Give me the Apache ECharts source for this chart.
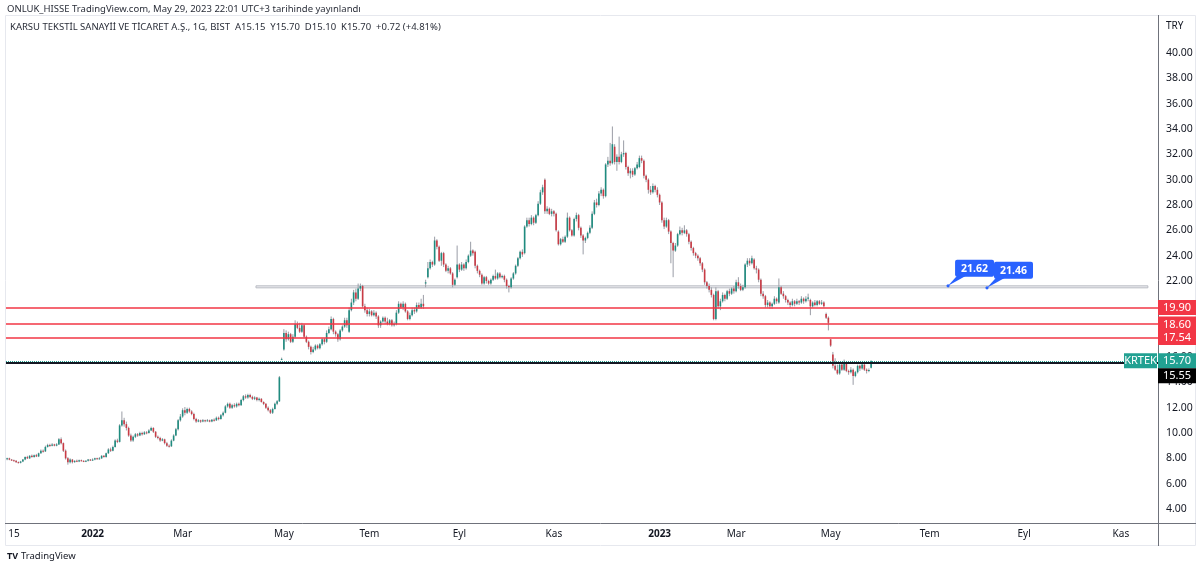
<!DOCTYPE html>
<html>
<head>
<meta charset="utf-8">
<script src="https://cdn.jsdelivr.net/npm/echarts@6/dist/echarts.min.js"></script>
<style>html,body{margin:0;padding:0;background:#fff}#c{width:1200px;height:567px}</style>
</head>
<body>
<div id="c"></div>
<script>
// ---- DATA ----
// daily candles: [open, close, low, high]
const candles = [
[7.95,8.0,7.85,8.05],[8.0,7.9,7.85,8.05],[7.9,7.85,7.8,7.95],[7.85,7.8,7.75,7.9],[7.8,7.7,7.65,7.85],
[7.7,7.65,7.6,7.75],[7.65,7.75,7.6,7.8],[7.75,7.9,7.7,7.95],[7.9,8.1,7.85,8.15],[8.1,8.0,7.95,8.2],
[8.0,8.2,7.95,8.25],[8.2,8.1,8.05,8.3],[8.1,8.25,8.05,8.3],[8.25,8.15,8.1,8.35],[8.15,8.4,8.1,8.45],
[8.4,8.6,8.35,8.7],[8.6,8.55,8.45,8.7],[8.55,8.9,8.5,9.0],[8.9,9.05,8.85,9.15],[9.05,9.0,8.9,9.15],
[9.0,9.1,8.95,9.2],[9.1,9.0,8.95,9.15],[9.0,9.1,8.95,9.2],[9.1,9.5,9.05,9.6],[9.5,9.2,9.1,9.65],
[9.2,8.6,8.5,9.25],[8.6,8.0,7.9,8.7],[8.0,7.7,7.5,8.1],[7.7,7.9,7.6,8.0],[7.9,7.7,7.6,7.95],
[7.7,7.8,7.65,7.85],[7.8,7.75,7.7,7.9],[7.75,7.85,7.7,7.9],[7.85,7.8,7.75,7.9],[7.8,7.75,7.7,7.85],
[7.75,7.8,7.7,7.85],[7.8,7.9,7.75,7.95],[7.9,7.85,7.8,7.95],[7.85,7.9,7.8,8.0],[7.9,8.0,7.85,8.05],
[8.0,7.95,7.9,8.05],[7.95,8.0,7.9,8.1],[8.0,8.2,7.95,8.25],[8.2,8.1,8.05,8.25],[8.1,8.4,8.05,8.45],
[8.4,8.7,8.35,8.8],[8.7,8.6,8.5,8.85],[8.6,8.9,8.55,9.0],[8.9,9.4,8.85,9.5],[9.4,9.3,9.2,9.55],
[9.3,10.6,9.25,10.7],[10.6,11.0,10.5,11.7],[11.0,10.7,10.5,11.2],[10.7,10.4,10.2,10.9],[10.4,9.8,9.7,10.5],
[9.8,9.4,9.3,9.95],[9.4,9.7,9.3,9.8],[9.7,9.9,9.6,10.0],[9.9,9.8,9.7,10.0],[9.8,10.0,9.75,10.1],
[10.0,9.9,9.8,10.1],[9.9,10.05,9.85,10.15],[10.05,10.0,9.9,10.15],[10.0,10.2,9.95,10.3],[10.2,10.4,10.15,10.5],
[10.4,10.1,10.0,10.45],[10.1,9.7,9.6,10.15],[9.7,9.6,9.5,9.8],[9.6,9.4,9.3,9.7],[9.4,9.5,9.35,9.6],
[9.5,9.2,9.1,9.55],[9.2,9.0,8.9,9.3],[9.0,8.95,8.85,9.1],[8.95,9.4,8.9,9.5],[9.4,9.8,9.35,9.9],
[9.8,10.3,9.75,10.4],[10.3,11.0,10.2,11.1],[11.0,11.3,10.9,11.5],[11.3,11.8,11.2,11.95],[11.8,11.6,11.4,12.05],
[11.6,11.9,11.5,12.0],[11.9,11.7,11.6,12.0],[11.7,11.5,11.4,11.8],[11.5,11.1,11.0,11.6],[11.1,10.9,10.8,11.2],
[10.9,11.0,10.85,11.1],[11.0,10.9,10.8,11.05],[10.9,11.0,10.85,11.1],[11.0,10.95,10.85,11.05],[10.95,11.0,10.9,11.1],
[11.0,10.9,10.85,11.05],[10.9,11.05,10.85,11.1],[11.05,11.0,10.9,11.15],[11.0,11.2,10.95,11.3],[11.2,11.1,11.0,11.3],
[11.1,11.4,11.05,11.5],[11.4,11.6,11.3,11.7],[11.6,12.1,11.55,12.2],[12.1,12.3,12.0,12.4],[12.3,12.0,11.9,12.4],
[12.0,12.2,11.9,12.3],[12.2,12.1,12.0,12.35],[12.1,12.3,12.0,12.4],[12.3,12.2,12.1,12.4],[12.2,12.6,12.15,12.7],
[12.6,12.9,12.5,13.0],[12.9,12.8,12.7,13.05],[12.8,13.0,12.7,13.1],[13.0,12.85,12.75,13.1],[12.85,12.7,12.6,12.95],
[12.7,12.8,12.6,12.9],[12.8,12.6,12.5,12.85],[12.6,12.7,12.5,12.8],[12.7,12.45,12.4,12.75],[12.45,12.3,12.2,12.5],
[12.3,12.0,11.9,12.35],[12.0,11.8,11.7,12.1],[11.8,11.6,11.5,11.9],[11.6,11.9,11.5,12.0],[11.9,12.3,11.85,12.4],
[12.3,12.5,12.2,12.6],[12.5,14.4,12.45,14.5],[15.8,15.85,15.75,15.95],[16.6,17.9,16.5,18.2],[17.9,17.4,17.2,18.1],
[17.4,17.8,17.3,18.0],[17.8,17.2,17.1,17.9],[17.2,17.6,17.1,17.8],[17.6,18.6,17.5,18.9],[18.6,18.3,18.2,18.8],
[18.3,18.0,17.9,18.7],[18.0,18.5,17.9,18.7],[18.5,17.6,17.5,18.6],[17.6,17.2,17.1,17.7],[17.2,16.8,16.6,17.3],
[16.8,16.4,16.2,16.9],[16.4,16.6,16.3,16.8],[16.6,16.9,16.5,17.0],[16.9,16.7,16.6,17.0],[16.7,17.0,16.6,17.1],
[17.0,17.4,16.9,17.5],[17.4,17.2,17.0,17.5],[17.2,17.9,17.1,18.1],[17.9,18.2,17.8,18.4],[18.2,19.0,18.1,19.2],
[19.0,18.0,17.8,19.1],[18.0,17.8,17.6,18.1],[17.8,17.4,17.2,17.9],[17.4,18.1,17.3,18.2],[18.1,18.4,18.0,18.5],
[18.4,18.9,18.3,19.1],[18.9,18.5,18.3,19.1],[18.0,19.7,17.9,19.9],[19.7,20.3,19.6,20.6],[20.3,21.1,20.1,21.3],
[21.1,20.6,20.4,21.4],[20.6,21.4,20.5,21.8],[21.4,21.6,21.2,21.8],[21.6,20.0,19.9,21.7],[20.0,19.7,19.5,20.2],
[19.7,19.4,19.2,19.9],[19.4,19.6,19.2,19.8],[19.6,19.3,19.2,19.7],[19.3,19.5,19.2,19.7],[19.5,19.2,19.0,19.6],
[19.2,18.5,18.3,19.3],[18.5,18.8,18.3,18.9],[18.8,19.1,18.7,19.2],[19.1,18.8,18.6,19.2],[18.8,18.6,18.5,19.1],
[18.6,18.9,18.5,19.0],[18.9,18.5,18.4,19.0],[18.5,18.6,18.4,18.8],[18.6,19.5,18.5,19.7],[19.5,20.2,19.4,20.4],
[20.2,19.9,19.8,20.3],[19.9,20.2,19.7,20.4],[20.2,19.6,19.5,20.3],[19.6,19.0,18.9,19.7],[19.0,19.3,18.9,19.5],
[19.3,19.7,19.2,19.9],[19.7,19.6,19.4,19.9],[19.6,20.1,19.5,20.3],[20.1,19.9,19.8,20.3],[19.9,20.2,19.8,20.6],
[20.2,20.0,19.8,20.9],[21.8,21.9,21.5,22.1],[22.3,23.0,22.2,23.5],[23.0,23.5,22.9,23.7],[23.5,23.3,23.1,23.6],
[23.3,25.2,23.2,25.5],[25.2,24.7,24.5,25.3],[24.7,23.6,23.5,24.8],[23.6,24.2,23.2,24.3],[24.2,23.3,23.1,24.3],
[23.3,22.8,22.7,23.4],[22.8,23.0,22.6,23.2],[23.0,22.6,22.5,23.1],[22.6,21.7,21.5,22.7],[21.7,22.1,21.6,22.2],
[22.3,23.3,22.2,24.8],[23.3,22.9,22.7,23.4],[22.9,23.3,22.8,23.5],[23.3,23.0,22.8,23.4],[23.0,23.5,22.9,23.7],
[23.5,24.0,23.4,24.1],[24.0,24.4,23.9,25.1],[24.4,24.2,24.0,24.5],[24.3,23.2,23.0,24.4],[23.2,22.8,22.6,23.3],
[22.8,22.5,22.3,22.9],[22.5,21.8,21.7,22.6],[21.8,22.3,21.7,22.4],[22.3,22.0,21.8,22.4],[22.0,21.8,21.7,22.1],
[21.8,22.1,21.7,22.2],[22.1,22.4,22.0,22.5],[22.4,22.2,22.1,22.9],[22.2,22.6,22.1,22.7],[22.6,22.3,22.2,22.7],
[22.3,22.4,22.2,22.5],[22.4,22.1,21.9,22.5],[22.1,21.6,21.4,22.2],[21.6,21.5,21.1,21.7],[21.5,22.2,21.4,22.3],
[22.2,22.6,22.1,22.7],[22.6,23.2,22.5,23.3],[23.2,23.8,23.1,23.9],[23.8,24.3,23.7,24.4],[24.3,24.1,23.9,24.5],
[24.2,26.3,24.1,26.4],[26.3,26.8,26.2,27.0],[26.8,26.5,26.3,27.0],[26.5,27.0,26.4,27.2],[27.0,26.6,26.4,27.1],
[26.6,27.2,26.5,27.3],[27.2,28.1,27.1,28.3],[28.1,29.0,28.0,29.2],[29.0,29.4,28.8,29.6],[30.0,27.5,27.3,30.1],
[27.5,27.7,27.3,27.9],[27.7,27.3,27.2,27.8],[27.3,27.5,27.1,27.7],[27.5,27.3,27.1,27.6],[27.3,26.0,25.9,27.4],
[25.9,24.9,24.8,26.0],[24.9,25.3,24.8,25.4],[25.3,25.1,25.0,25.5],[25.1,25.5,25.0,25.6],[25.5,27.0,25.4,27.4],
[27.0,26.0,25.9,27.1],[26.0,25.6,25.5,26.1],[25.6,26.9,25.5,27.0],[26.9,27.2,26.7,27.4],[27.2,26.2,26.0,27.3],
[26.2,25.6,25.4,26.3],[25.6,25.2,24.1,25.7],[25.2,25.4,25.0,25.5],[25.4,25.8,25.3,25.9],[25.8,26.2,25.7,26.4],
[26.2,27.3,26.1,27.5],[27.3,28.2,27.2,28.4],[28.2,28.0,27.8,28.5],[28.0,28.9,27.9,29.1],[28.9,29.2,28.7,29.4],
[29.2,28.7,28.5,29.3],[28.7,31.2,28.6,31.3],[31.2,31.5,31.0,31.8],[31.5,31.3,31.1,32.9],[31.3,32.8,31.2,34.2],
[32.6,31.4,31.2,32.8],[31.4,31.8,30.7,32.0],[31.8,31.4,31.2,33.4],[31.4,32.0,31.3,32.2],[32.0,32.1,31.8,33.1],
[32.1,31.0,30.8,32.2],[31.0,30.5,30.3,31.1],[30.5,30.7,30.1,30.9],[30.7,30.4,30.2,30.9],[30.4,30.9,30.3,31.0],
[30.9,31.2,30.8,31.4],[31.0,31.7,30.9,31.9],[31.7,31.5,31.3,31.9],[31.5,30.3,30.1,31.6],[30.3,30.0,29.8,30.4],
[30.0,29.2,28.9,30.1],[29.2,29.0,28.8,29.5],[29.0,29.5,28.9,29.7],[29.5,29.2,29.0,29.6],[29.2,28.8,28.6,29.4],
[28.8,28.2,28.0,28.9],[28.2,26.8,26.6,28.3],[26.8,26.3,26.1,27.0],[26.3,26.8,26.2,27.0],[26.8,25.9,25.7,26.9],
[25.9,25.0,23.4,26.0],[25.0,24.4,22.3,25.1],[24.4,24.8,24.3,25.0],[24.8,25.7,24.7,25.8],[25.7,26.0,25.6,26.3],
[26.0,25.8,25.6,26.2],[25.8,26.0,25.7,26.4],[26.0,25.7,25.5,26.1],[25.7,25.1,24.9,25.8],[25.1,24.6,24.4,25.2],
[24.6,24.2,24.0,24.7],[24.2,24.0,23.8,24.3],[24.0,23.8,23.6,24.1],[23.8,23.4,23.2,23.9],[23.4,22.9,22.7,23.5],
[22.9,21.9,21.7,23.0],[21.9,21.6,21.4,22.0],[21.6,21.3,21.1,21.8],[21.3,20.9,20.7,21.5],[20.9,19.0,18.9,21.0],
[19.0,21.2,18.9,21.5],[21.2,20.0,19.8,21.3],[20.0,20.4,19.7,20.6],[20.4,20.9,20.3,21.1],[20.9,20.6,20.4,21.0],
[20.6,21.2,20.5,21.3],[21.2,21.0,20.8,21.4],[21.0,21.4,20.9,21.5],[21.4,21.2,21.0,21.6],[21.2,21.9,21.1,22.1],
[21.9,21.6,21.4,22.3],[21.6,21.3,21.2,21.8],[21.3,21.5,21.2,21.7],[21.5,23.3,21.4,23.4],[23.3,23.6,23.1,23.8],
[23.6,23.4,23.2,23.8],[23.4,23.8,23.3,24.0],[23.7,23.0,22.9,23.8],[23.0,22.9,22.6,23.2],[22.9,22.1,21.9,23.0],
[22.1,21.0,20.8,22.2],[21.0,20.8,20.6,21.2],[20.8,20.1,19.9,20.9],[20.1,20.3,19.9,20.5],[20.3,20.0,19.8,20.4],
[20.0,20.2,19.8,20.3],[20.2,20.6,20.1,20.8],[20.6,20.4,20.2,20.7],[20.3,21.5,20.2,22.2],[21.5,21.0,20.9,21.6],
[21.0,20.8,20.6,21.2],[20.8,20.5,20.3,20.9],[20.5,20.3,20.1,20.6],[20.3,20.1,19.9,20.4],[20.1,20.4,20.0,20.6],
[20.4,20.2,20.0,20.5],[20.2,20.4,20.1,20.6],[20.4,20.3,20.1,20.5],[20.3,20.6,20.2,20.8],[20.6,20.4,20.2,20.7],
[20.4,20.6,20.3,20.8],[20.6,20.7,20.4,21.0],[20.5,20.0,19.3,20.6],[20.0,20.3,19.9,20.4],[20.3,20.1,20.0,20.5],
[20.1,20.4,20.0,20.5],[20.4,20.2,20.1,20.5],[20.2,20.3,20.1,20.5],[20.3,20.0,19.9,20.4],[19.4,19.1,19.0,19.5],
[19.1,18.7,18.1,19.2],[17.4,16.9,16.8,17.4],[16.2,15.3,15.1,16.4],[15.3,15.0,14.9,15.9],[15.0,14.7,14.6,15.4],
[14.7,15.4,14.6,15.6],[15.4,15.0,14.9,15.5],[15.0,15.6,14.9,15.8],[15.5,14.9,14.8,15.6],[14.9,14.8,14.6,15.0],
[14.8,15.0,14.7,15.2],[15.0,14.5,13.8,15.1],[14.5,14.8,14.4,14.9],[14.8,15.3,14.7,15.4],[15.3,15.1,14.9,15.4],
[15.1,15.4,15.0,15.5],[15.4,15.0,14.9,15.5],[15.0,14.9,14.7,15.1],[14.9,14.98,14.8,15.1],[15.15,15.70,15.10,15.70]
];
const totalSlots = 512;                 // trading-day slots incl. future space
const xTickIndex  = [3, 38, 78, 123, 161, 201, 243, 290, 324, 366, 410, 452, 495];
const xTickLabels = ['15', '2022', 'Mar', 'May', 'Tem', 'Eyl', 'Kas', '2023', 'Mar', 'May', 'Tem', 'Eyl', 'Kas'];
const yTicks = [4, 6, 8, 10, 12, 14, 16, 18, 20, 22, 24, 26, 28, 30, 32, 34, 36, 38, 40];
const redLevels = [19.90, 18.60, 17.54];
const supportLevel = 15.55;
const lastPrice = 15.70;
const ticker = 'KRTEK';
const zoneTop = 21.62, zoneBottom = 21.46;
const zoneStartSlot = 110.6, zoneEndSlot = 507;
const calloutSlots = [418.2, 435.5];
const calloutValues = [21.62, 21.46];
const titleLine = 'ONLUK_HISSE TradingView.com, May 29, 2023 22:01 UTC+3 tarihinde yayınlandı';
const symbolLine = 'KARSU TEKSTİL SANAYİİ VE TİCARET A.Ş., 1G, BIST  A15.15  Y15.70  D15.10  K15.70  +0.72 (+4.81%)';

// ---- CHART ----
const FONT = '"Noto Sans", "DejaVu Sans", sans-serif';
const UP = '#1f8c7f', DOWN = '#c93b45', WICK = '#9a9da6';
const RED = '#f23645', TEAL = '#22a192', INK = '#131722';
const labelMap = {};
xTickIndex.forEach((v, k) => labelMap[v] = xTickLabels[k]);

const chart = echarts.init(document.getElementById('c'), null, {renderer: 'canvas'});

const option = {
  animation: false,
  backgroundColor: '#ffffff',
  textStyle: {fontFamily: FONT},
  grid: {left: 6, right: 42, top: 15, bottom: 44},
  xAxis: {
    type: 'value', min: -0.5, max: totalSlots - 0.5,
    axisLine: {show: false}, axisTick: {show: false}, splitLine: {show: false},
    axisLabel: {
      customValues: xTickIndex, margin: 6, fontSize: 10, color: INK, fontFamily: FONT,
      formatter: v => {
        const t = labelMap[Math.round(v)] || '';
        return /^\d{4}$/.test(t) ? '{b|' + t + '}' : t;
      },
      rich: {b: {fontWeight: 'bold', fontSize: 10, color: INK, fontFamily: FONT}}
    }
  },
  yAxis: {
    type: 'value', position: 'right', min: 2.895, max: 43.0,
    axisLine: {show: false}, axisTick: {show: false}, splitLine: {show: false},
    axisLabel: {customValues: yTicks, formatter: v => Number(v).toFixed(2), fontSize: 10.5, color: INK, margin: 8, fontFamily: FONT}
  },
  series: [
    {
      type: 'custom', name: 'KRTEK',
      data: candles.map((r, i) => [i, r[0], r[1], r[2], r[3]]),
      encode: {x: 0, y: [1, 2, 3, 4]},
      clip: true,
      renderItem: (params, api) => {
        const i = api.value(0), o = api.value(1), c = api.value(2), l = api.value(3), h = api.value(4);
        const pO = api.coord([i, o]), pC = api.coord([i, c]), pL = api.coord([i, l]), pH = api.coord([i, h]);
        const w = api.size([1, 0])[0] * 0.72;
        const top = Math.min(pO[1], pC[1]);
        const hgt = Math.max(1, Math.abs(pO[1] - pC[1]));
        return {type: 'group', children: [
          {type: 'line', shape: {x1: pO[0], y1: pH[1], x2: pO[0], y2: pL[1]}, style: {stroke: WICK, lineWidth: 1}},
          {type: 'rect', shape: {x: pO[0] - w / 2, y: top, width: w, height: hgt}, style: {fill: c >= o ? UP : DOWN}}
        ]};
      },
      markArea: {
        silent: true,
        itemStyle: {color: '#ececef', borderColor: '#b9bcc4', borderWidth: 1},
        data: [[{xAxis: zoneStartSlot, yAxis: zoneTop}, {xAxis: zoneEndSlot, yAxis: zoneBottom}]]
      },
      markLine: {
        silent: true, symbol: ['none', 'none'], label: {show: false},
        data: [
          ...redLevels.map(v => ({yAxis: v, lineStyle: {color: RED, width: 1.5, type: 'solid'}})),
          {yAxis: lastPrice, lineStyle: {color: TEAL, width: 1, type: 'dotted'}},
          {yAxis: supportLevel, lineStyle: {color: INK, width: 2, type: 'solid'}}
        ]
      }
    },
    {
      type: 'custom', name: 'callouts', z: 5,
      data: calloutSlots.map((s, k) => [s, calloutValues[k]]),
      encode: {x: 0, y: 1},
      renderItem: (params, api) => {
        const p = api.coord([api.value(0), api.value(1)]);
        const bx = p[0] + 7, by = p[1] - 26, bw = 39, bh = 17;
        return {type: 'group', children: [
          {type: 'polygon', shape: {points: [[p[0], p[1]], [bx + 2, by + bh - 1], [bx + 11, by + bh - 1]]}, style: {fill: '#2962ff'}},
          {type: 'rect', shape: {x: bx, y: by, width: bw, height: bh, r: 2}, style: {fill: '#2962ff'}},
          {type: 'circle', shape: {cx: p[0], cy: p[1], r: 1.6}, style: {fill: '#2962ff'}},
          {type: 'text', style: {x: bx + bw / 2, y: by + bh / 2 + 0.5, text: api.value(1).toFixed(2), fill: '#fff',
            font: 'bold 10.5px ' + FONT, align: 'center', verticalAlign: 'middle'}}
        ]};
      }
    }
  ]
};
chart.setOption(option);

// ---- annotations positioned from the axis scale ----
function yPix(v) { return chart.convertToPixel({yAxisIndex: 0}, v); }
const axisX = 1158, tagW = 38, tagH = 15;
const g = [];
function tag(x, yc, w, text, bg) {
  g.push({type: 'rect', z: 100, shape: {x: x, y: yc - tagH / 2, width: w, height: tagH}, style: {fill: bg}});
  g.push({type: 'text', z: 101, style: {x: x + w / 2, y: yc + 0.5, text: text, fill: '#fff', font: '11px ' + FONT, align: 'center', verticalAlign: 'middle'}});
}
redLevels.forEach(v => tag(axisX, yPix(v), tagW, v.toFixed(2), RED));
const yLast = yPix(lastPrice);
tag(axisX, yLast, tagW, lastPrice.toFixed(2), TEAL);
tag(axisX - 34, yLast, 33, ticker, TEAL);
tag(axisX, yLast + tagH, tagW, supportLevel.toFixed(2), '#000000');

// frame
g.push({type: 'rect', z: 1, shape: {x: 5.5, y: 15.5, width: 1190, height: 530}, style: {fill: 'none', stroke: '#e6e8ee', lineWidth: 1}});
g.push({type: 'line', z: 2, shape: {x1: axisX + 0.5, y1: 15, x2: axisX + 0.5, y2: 546}, style: {stroke: '#6f727b', lineWidth: 1}});
g.push({type: 'line', z: 2, shape: {x1: 5, y1: 523.5, x2: 1196, y2: 523.5}, style: {stroke: '#6f727b', lineWidth: 1}});
g.push({type: 'text', z: 10, style: {x: 1166, y: 26, text: 'TRY', fill: INK, font: '10px ' + FONT, verticalAlign: 'middle'}});
// header
g.push({type: 'text', z: 10, style: {x: 7, y: 9, text: titleLine, fill: '#2a2e39', font: '9.5px ' + FONT, verticalAlign: 'middle'}});
g.push({type: 'text', z: 10, style: {x: 10, y: 27, text: symbolLine, fill: '#2a2e39', font: '9.5px ' + FONT, verticalAlign: 'middle'}});
// footer logo
g.push({type: 'text', z: 10, style: {x: 7, y: 556, text: 'TV', fill: INK, font: 'bold 9px ' + FONT, verticalAlign: 'middle'}});
g.push({type: 'text', z: 10, style: {x: 21, y: 556, text: 'TradingView', fill: INK, font: '9.5px ' + FONT, verticalAlign: 'middle'}});
chart.setOption({graphic: {elements: g}});
</script>
</body>
</html>
